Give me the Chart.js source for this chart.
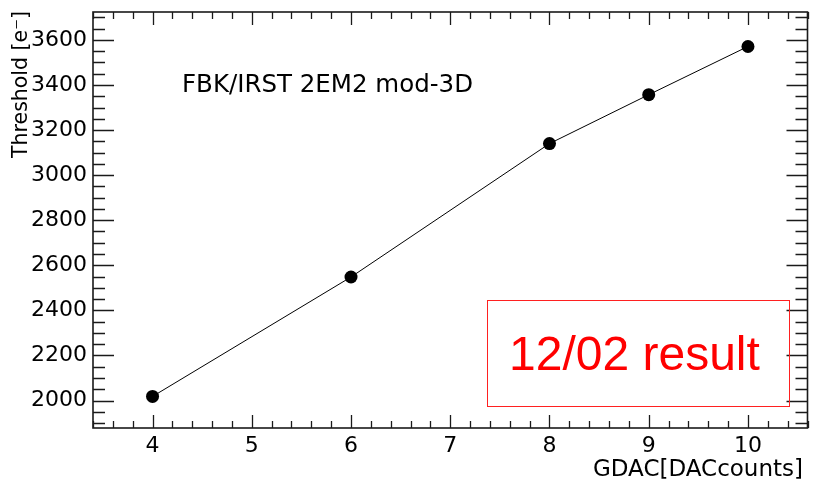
<!DOCTYPE html>
<html>
<head>
<meta charset="utf-8">
<script src="https://cdn.jsdelivr.net/npm/chart.js@4/dist/chart.umd.min.js"></script>
<style>
  html, body { margin: 0; padding: 0; background: #fff; }
  #wrap { width: 814px; height: 485px; position: relative; }
</style>
</head>
<body>
<div id="wrap"><canvas id="c"></canvas></div>
<script>
// GDAC scan: threshold vs. global DAC setting
const gdac = [4, 6, 8, 9, 10];
const threshold = [2018, 2548, 3140, 3357, 3571];

const xTickValues = [4, 5, 6, 7, 8, 9, 10];
const yTickValues = [2000, 2200, 2400, 2600, 2800, 3000, 3200, 3400, 3600];

const xRange = [3.4, 10.6];
const yRange = [1878, 3724];
const xMinorStep = 0.2;
const yMinorStep = 50;

const yTitle = 'Threshold [e\u207B]';
const xTitle = 'GDAC[DACcounts]';
const plotLabel = 'FBK/IRST 2EM2 mod-3D';
const noteLabel = '12/02 result';

const AXIS_FONT = '"DejaVu Sans", sans-serif';

// frame, inward tick marks on all four sides, axis titles and text labels
const framePlugin = {
  id: 'frame',
  afterDraw(chart) {
    const { ctx, chartArea: a, scales: { x, y } } = chart;
    ctx.save();
    ctx.strokeStyle = '#1a1a1a';
    ctx.lineWidth = 1.6;
    ctx.strokeRect(a.left, a.top, a.right - a.left, a.bottom - a.top);

    ctx.lineWidth = 1.3;
    ctx.beginPath();
    // x ticks
    const nx = Math.round((xRange[1] - xRange[0]) / xMinorStep);
    for (let i = 0; i <= nx; i++) {
      const v = +(xRange[0] + i * xMinorStep).toFixed(6);
      const major = xTickValues.some(t => Math.abs(t - v) < 1e-6);
      const len = major ? 13 : 7;
      const px = Math.round(x.getPixelForValue(v)) + 0.5;
      ctx.moveTo(px, a.bottom); ctx.lineTo(px, a.bottom - len);
      ctx.moveTo(px, a.top); ctx.lineTo(px, a.top + len);
    }
    // y ticks
    const y0 = Math.ceil(yRange[0] / yMinorStep) * yMinorStep;
    for (let v = y0; v <= yRange[1]; v += yMinorStep) {
      const major = yTickValues.includes(v);
      const len = major ? 21 : 12;
      const py = Math.round(y.getPixelForValue(v)) + 0.5;
      ctx.moveTo(a.left, py); ctx.lineTo(a.left + len, py);
      ctx.moveTo(a.right, py); ctx.lineTo(a.right - len, py);
    }
    ctx.stroke();

    ctx.fillStyle = '#000';
    // y axis title, right-aligned to the top of the frame
    ctx.save();
    ctx.translate(22, 11);
    ctx.rotate(-Math.PI / 2);
    ctx.font = '20.5px ' + AXIS_FONT;
    ctx.textAlign = 'right';
    ctx.textBaseline = 'middle';
    ctx.fillText(yTitle, 0, 0);
    ctx.restore();

    // x axis title, right-aligned under the axis
    ctx.font = '23px ' + AXIS_FONT;
    ctx.textAlign = 'right';
    ctx.textBaseline = 'alphabetic';
    ctx.fillText(xTitle, 803, 476);

    // plot label
    ctx.font = '24.5px ' + AXIS_FONT;
    ctx.textAlign = 'left';
    ctx.fillText(plotLabel, 182, 92);

    // boxed note
    ctx.strokeStyle = '#ff2020';
    ctx.lineWidth = 1;
    ctx.strokeRect(487.5, 300.5, 302, 106);
    ctx.fillStyle = '#ff0000';
    ctx.font = '48px "Liberation Sans", Arial, sans-serif';
    ctx.fillText(noteLabel, 509, 370);
    ctx.restore();
  }
};

new Chart(document.getElementById('c'), {
  type: 'scatter',
  data: {
    datasets: [{
      data: gdac.map((g, i) => ({ x: g, y: threshold[i] })),
      showLine: true,
      borderColor: '#000',
      borderWidth: 1,
      backgroundColor: '#000',
      pointRadius: 6.5,
      pointHoverRadius: 6.5,
      pointBorderWidth: 0,
      tension: 0
    }]
  },
  options: {
    responsive: true,
    maintainAspectRatio: false,
    animation: false,
    events: [],
    layout: { padding: { top: 12, right: 3, left: 0, bottom: 0 } },
    plugins: { legend: { display: false }, tooltip: { enabled: false } },
    scales: {
      x: {
        type: 'linear',
        min: xRange[0],
        max: xRange[1],
        afterBuildTicks: s => { s.ticks = xTickValues.map(v => ({ value: v })); },
        afterFit: s => { s.height = 57; s.paddingLeft = 0; s.paddingRight = 0; },
        grid: { display: false, drawTicks: false },
        border: { display: false },
        ticks: {
          font: { family: AXIS_FONT, size: 22 },
          color: '#000',
          padding: 5,
          maxRotation: 0,
          autoSkip: false,
          callback: v => String(v)
        }
      },
      y: {
        type: 'linear',
        min: yRange[0],
        max: yRange[1],
        afterBuildTicks: s => { s.ticks = yTickValues.map(v => ({ value: v })); },
        afterFit: s => { s.width = 93; s.paddingTop = 0; s.paddingBottom = 0; },
        grid: { display: false, drawTicks: false },
        border: { display: false },
        ticks: {
          font: { family: AXIS_FONT, size: 22 },
          color: '#000',
          padding: 6,
          autoSkip: false,
          callback: v => String(v)
        }
      }
    }
  },
  plugins: [framePlugin]
});
</script>
</body>
</html>
